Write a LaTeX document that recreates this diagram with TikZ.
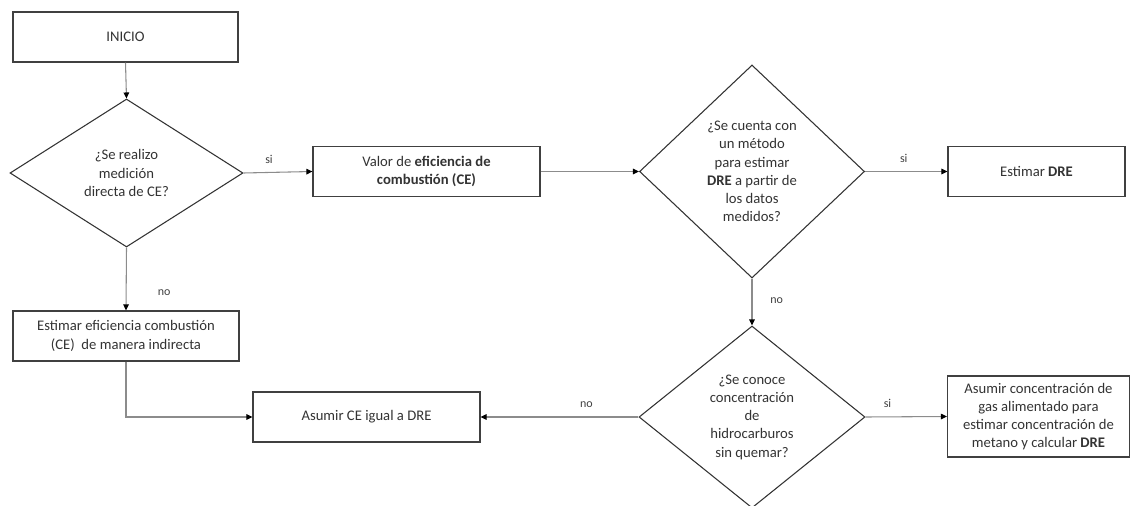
\documentclass[tikz,border=0pt]{standalone}
\usepackage{fontspec}
\setmainfont{Carlito}
\usetikzlibrary{shapes.geometric,arrows.meta}

\tikzset{
  caja/.style={draw=black!75, line width=0.9pt, align=center, text=black!80,
    minimum height=37.5pt, inner sep=2pt, font=\fontsize{11}{13.7}\selectfont},
  decision/.style={diamond, draw=black!80, line width=0.8pt, align=center, text=black!80,
    inner sep=0pt, font=\fontsize{11}{13.7}\selectfont},
  flecha/.style={draw=black!45, line width=0.8pt,
    -{Triangle[length=4.5pt,width=4.2pt,color=black]}},
  etiqueta/.style={font=\fontsize{9}{10}\selectfont, text=black!75}
}

\begin{document}
\begin{tikzpicture}[x=0.75pt, y=-0.75pt]
  \useasboundingbox (0,0) rectangle (1130,506);

  % cajas
  \node[caja, minimum width=168.75pt] (inicio) at (125.5,37) {INICIO};
  \node[caja, minimum width=170.25pt] (valor) at (426.5,171.5) {Valor de \textbf{eficiencia de}\\\textbf{combustión (CE)}};
  \node[caja, minimum width=132.75pt] (estdre) at (1036.5,171.5) {Estimar \textbf{DRE}};
  \node[caja, minimum width=169.5pt] (estce) at (126,336) {Estimar eficiencia combustión\\(CE)\ \ de manera indirecta};
  \node[caja, minimum width=170.25pt] (asumce) at (366.5,417) {Asumir CE igual a DRE};
  \node[caja, minimum width=136.5pt, minimum height=60.75pt] (asumconc) at (1038.5,416.5)
    {Asumir concentración de\\gas alimentado para\\estimar concentración de\\metano y calcular \textbf{DRE}};

  % decisiones
  \node[decision, minimum width=174.75pt, minimum height=111pt, aspect=1.5] (dec1) at (126.5,173)
    {¿Se realizo\\medición\\directa de CE?};
  \node[decision, minimum width=168.75pt, minimum height=159.75pt, aspect=1] (dec2) at (752,171.5)
    {¿Se cuenta con\\un método\\para estimar\\\textbf{DRE} a partir de\\los datos\\medidos?};
  \node[decision, minimum width=169.5pt, minimum height=136.5pt, aspect=1.25] (dec3) at (752,417)
    {¿Se conoce\\concentración\\de\\hidrocarburos\\sin quemar?};

  % conectores
  \draw[flecha] (inicio.south) -- (dec1.north);
  \draw[flecha] (dec1.east) -- (valor.west) node[etiqueta, pos=0.37, above=3pt] {si};
  \draw[flecha] (dec1.south) -- (estce.north) node[etiqueta, pos=0.72, anchor=west, xshift=20pt] {no};
  \draw[flecha] (valor.east) -- (dec2.west);
  \draw[flecha] (dec2.east) -- (estdre.west) node[etiqueta, pos=0.47, above=3pt] {si};
  \draw[flecha] (dec2.south) -- (dec3.north) node[etiqueta, pos=0.48, anchor=west, xshift=10pt] {no};
  \draw[flecha] (estce.south) |- (asumce.west);
  \draw[flecha] (dec3.west) -- (asumce.east) node[etiqueta, pos=0.33, above=3pt] {no};
  \draw[flecha] (dec3.east) -- (asumconc.west) node[etiqueta, pos=0.27, above=3pt] {si};
\end{tikzpicture}
\end{document}
